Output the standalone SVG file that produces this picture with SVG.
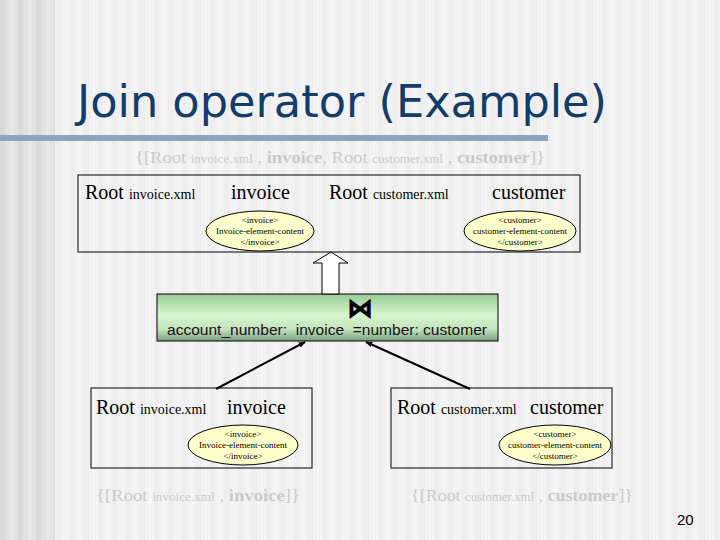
<svg xmlns="http://www.w3.org/2000/svg" width="720" height="540" viewBox="0 0 720 540">
<defs>
<pattern id="stripes" x="0" y="0" width="14" height="540" patternUnits="userSpaceOnUse">
<rect width="14" height="540" fill="#f2f2f2"/>
<rect x="0" width="5" height="540" fill="#eeeeee"/>
<rect x="9" width="2" height="540" fill="#f6f6f6"/>
</pattern>
<pattern id="dark" x="0" y="0" width="18" height="540" patternUnits="userSpaceOnUse">
<rect width="18" height="540" fill="#e2e2e2"/>
<rect x="0" width="5" height="540" fill="#d9d9d9"/>
<rect x="10" width="4" height="540" fill="#e8e8e8"/>
</pattern>
<linearGradient id="green" x1="0" y1="0" x2="0" y2="1">
<stop offset="0" stop-color="#98cc96"/>
<stop offset="0.45" stop-color="#d6f5d0"/>
<stop offset="0.75" stop-color="#c2e3bc"/>
<stop offset="1" stop-color="#7d9e7d"/>
</linearGradient>
<marker id="ah" viewBox="0 0 10 10" refX="9" refY="5" markerWidth="7" markerHeight="7" orient="auto" markerUnits="userSpaceOnUse">
<path d="M0,1 L10,5 L0,9 Z" fill="#000"/>
</marker>
<style>
.box{fill:none;stroke:#000;stroke-width:1}
.ell{fill:#ffffcc;stroke:#000;stroke-width:1}
.big{font-family:"Liberation Serif","Times New Roman",serif;font-size:20px;fill:#000}
.sm{font-family:"Liberation Serif","Times New Roman",serif;font-size:14px}
.et{font-family:"Liberation Serif","Times New Roman",serif;font-size:9px;fill:#000;text-anchor:middle}
.grey{font-family:"Liberation Serif","Times New Roman",serif;font-size:17px;fill:#cacaca}
.grey .s{font-size:12px}
.grey .b{font-weight:bold}
.conn{stroke:#000;stroke-width:2;fill:none}
</style>
</defs>
<rect width="720" height="540" fill="url(#stripes)"/>
<rect width="55" height="540" fill="url(#dark)"/>
<text x="77" y="117" font-family="'DejaVu Sans',Verdana,sans-serif" font-size="45" fill="#123d6a" textLength="530" lengthAdjust="spacingAndGlyphs">Join operator (Example)</text>
<rect x="0" y="135" width="548" height="6" fill="#8fa5be"/>

<text class="grey" x="135" y="163" textLength="410" lengthAdjust="spacingAndGlyphs">{[Root <tspan class="s">invoice.xml</tspan> , <tspan class="b">invoice</tspan>, Root <tspan class="s">customer.xml</tspan> , <tspan class="b">customer</tspan>]}</text>

<g id="top-box">
<rect class="box" x="78" y="175" width="502" height="77"/>
<text class="big" x="85" y="199">Root <tspan class="sm">invoice.xml</tspan></text>
<text class="big" x="231" y="199">invoice</text>
<text class="big" x="329" y="199">Root <tspan class="sm">customer.xml</tspan></text>
<text class="big" x="492" y="199">customer</text>
<ellipse class="ell" cx="260" cy="231" rx="54" ry="20"/>
<text class="et" x="260" y="223">&lt;invoice&gt;</text>
<text class="et" x="260" y="234">Invoice-element-content</text>
<text class="et" x="260" y="245">&lt;/invoice&gt;</text>
<ellipse class="ell" cx="520" cy="231" rx="56" ry="20"/>
<text class="et" x="520" y="223">&lt;customer&gt;</text>
<text class="et" x="520" y="234">customer-element-content</text>
<text class="et" x="520" y="245">&lt;/customer&gt;</text>
</g>

<g id="join">
<rect x="157" y="294" width="341" height="47" fill="url(#green)" stroke="#000" stroke-width="1"/>
<text x="360" y="317" font-family="'DejaVu Sans',sans-serif" font-size="26" font-weight="bold" text-anchor="middle" fill="#000" stroke="#000" stroke-width="0.8">⋈</text>
<text x="167" y="335" font-family="'Liberation Sans',Arial,sans-serif" font-size="14" fill="#111" textLength="320" lengthAdjust="spacingAndGlyphs" xml:space="preserve">account_number:  invoice  =number: customer</text>
</g>

<g id="bottom-left">
<rect class="box" x="91" y="388" width="221" height="80"/>
<text class="big" x="96" y="414">Root <tspan class="sm">invoice.xml</tspan></text>
<text class="big" x="227" y="414">invoice</text>
<ellipse class="ell" cx="243" cy="445" rx="55" ry="20"/>
<text class="et" x="243" y="437">&lt;invoice&gt;</text>
<text class="et" x="243" y="448">Invoice-element-content</text>
<text class="et" x="243" y="459">&lt;/invoice&gt;</text>
</g>

<g id="bottom-right">
<rect class="box" x="391" y="388" width="221" height="80"/>
<text class="big" x="397" y="414">Root <tspan class="sm">customer.xml</tspan></text>
<text class="big" x="530" y="414">customer</text>
<ellipse class="ell" cx="555" cy="445" rx="56" ry="20"/>
<text class="et" x="555" y="437">&lt;customer&gt;</text>
<text class="et" x="555" y="448">customer-element-content</text>
<text class="et" x="555" y="459">&lt;/customer&gt;</text>
</g>

<text class="grey" x="96" y="501" textLength="204" lengthAdjust="spacingAndGlyphs">{[Root <tspan class="s">invoice.xml</tspan> , <tspan class="b">invoice</tspan>]}</text>
<text class="grey" x="411" y="501" textLength="222" lengthAdjust="spacingAndGlyphs">{[Root <tspan class="s">customer.xml</tspan> , <tspan class="b">customer</tspan>]}</text>

<g id="connectors">
<polygon points="331,252 348,263 339,263 339,294 322,294 322,263 313,263" fill="#fff" stroke="#000" stroke-width="1"/>
<line class="conn" x1="216" y1="389" x2="305" y2="342" marker-end="url(#ah)"/>
<line class="conn" x1="470" y1="389" x2="366" y2="342" marker-end="url(#ah)"/>
</g>

<text x="677" y="525" font-family="'Liberation Sans',Arial,sans-serif" font-size="15" fill="#000">20</text>
</svg>
